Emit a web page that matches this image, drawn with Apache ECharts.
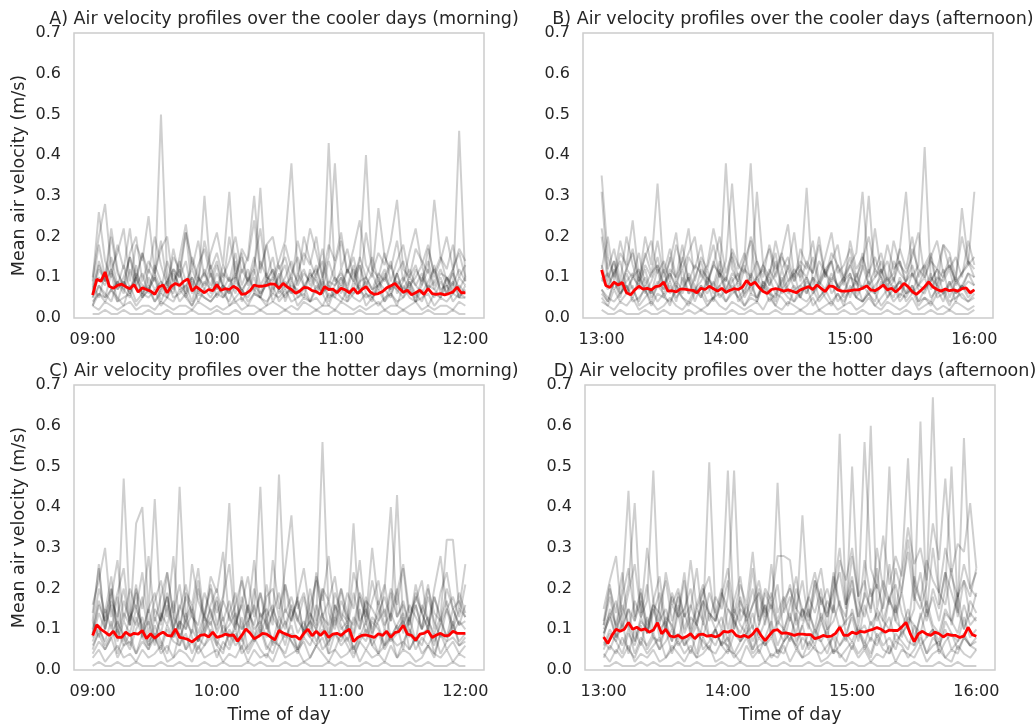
<!DOCTYPE html>
<html>
<head>
<meta charset="utf-8">
<script src="https://cdn.jsdelivr.net/npm/echarts@6/dist/echarts.min.js"></script>
<style>
html,body{margin:0;padding:0;background:#fff;}
#chart{width:1035px;height:725px;}
</style>
</head>
<body>
<div id="chart"></div>
<script>
// ---- time stamps (minutes after the start of each session) ----
const greyMinutes = [0,3,6,9,12,15,18,21,24,27,30,33,36,39,42,45,48,51,54,57,60,63,66,69,72,75,78,81,84,87,90,93,96,99,102,105,108,111,114,117,120,123,126,129,132,135,138,141,144,147,150,153,156,159,162,165,168,171,174,177,180];
const redMinutes = [0,2,4,6,8,10,12,14,16,18,20,22,24,26,28,30,32,34,36,38,40,42,44,46,48,50,52,54,56,58,60,62,64,66,68,70,72,74,76,78,80,82,84,86,88,90,92,94,96,98,100,102,104,106,108,110,112,114,116,118,120,122,124,126,128,130,132,134,136,138,140,142,144,146,148,150,152,154,156,158,160,162,164,166,168,170,172,174,176,178,180];
const morningTicks = ['09:00','10:00','11:00','12:00'];
const afternoonTicks = ['13:00','14:00','15:00','16:00'];
const tickMinutes = [0,60,120,180];

const titles = [
  'A) Air velocity profiles over the cooler days (morning)',
  'B) Air velocity profiles over the cooler days (afternoon)',
  'C) Air velocity profiles over the hotter days (morning)',
  'D) Air velocity profiles over the hotter days (afternoon)'
];

// ---- mean profiles (red) ----
const meanA = [.056,.095,.09,.113,.078,.073,.08,.083,.077,.072,.082,.064,.074,.07,.066,.058,.076,.081,.062,.078,.085,.08,.09,.096,.066,.077,.069,.062,.07,.067,.082,.068,.072,.07,.078,.072,.058,.06,.067,.081,.078,.078,.08,.084,.083,.073,.085,.076,.07,.061,.066,.075,.074,.067,.065,.058,.077,.07,.071,.062,.073,.069,.062,.073,.06,.07,.077,.064,.058,.06,.065,.074,.079,.085,.073,.063,.068,.057,.062,.068,.058,.072,.06,.058,.06,.057,.06,.064,.076,.062,.062];
const meanB = [.118,.08,.075,.088,.081,.087,.062,.057,.069,.078,.071,.073,.069,.077,.079,.088,.066,.067,.064,.071,.071,.069,.068,.062,.073,.07,.078,.072,.066,.073,.063,.068,.072,.07,.076,.092,.081,.088,.075,.065,.06,.07,.072,.07,.066,.069,.066,.062,.069,.073,.077,.07,.081,.073,.065,.079,.077,.069,.066,.066,.067,.069,.069,.073,.079,.069,.067,.073,.081,.069,.073,.064,.073,.085,.077,.065,.058,.067,.077,.089,.076,.07,.066,.071,.067,.069,.066,.072,.074,.062,.069];
const meanC = [.085,.111,.1,.093,.085,.095,.08,.08,.093,.085,.09,.088,.097,.077,.089,.078,.087,.093,.085,.083,.101,.08,.078,.075,.069,.077,.085,.087,.081,.093,.08,.083,.088,.085,.086,.071,.085,.101,.091,.077,.082,.09,.088,.081,.074,.097,.091,.087,.082,.083,.075,.09,.1,.084,.095,.085,.095,.08,.088,.09,.085,.094,.1,.07,.08,.085,.086,.083,.08,.089,.085,.095,.08,.092,.095,.11,.088,.085,.073,.088,.09,.096,.08,.086,.09,.084,.085,.095,.09,.09,.09];
const meanD = [.081,.065,.085,.1,.095,.1,.117,.1,.105,.098,.101,.093,.098,.116,.089,.1,.084,.081,.085,.078,.082,.089,.077,.087,.088,.083,.085,.081,.085,.095,.093,.097,.085,.081,.085,.08,.088,.102,.085,.072,.085,.097,.099,.09,.091,.089,.085,.088,.088,.087,.087,.077,.08,.085,.082,.083,.09,.105,.085,.085,.093,.089,.095,.093,.097,.1,.104,.1,.093,.098,.097,.097,.106,.117,.09,.07,.089,.095,.088,.085,.093,.089,.081,.088,.085,.085,.08,.083,.105,.087,.083];

// ---- individual day profiles (grey) ----
const daysA = [
[.01,.01,.02,.01,.01,.02,.01,.01,.01,.02, .01,.01,.02,.01,.01,.01,.02,.01,.01,.01, .02,.01,.01,.02,.01,.01,.01,.02,.01,.01, .01,.02,.01,.01,.01,.01,.02,.01,.01,.02, .01,.01,.01,.02,.01,.01,.01,.02,.01,.01, .02,.01,.01,.01,.02,.01,.01,.01,.02,.01, .01],
[.03,.02,.04,.03,.02,.03,.04,.02,.03,.03, .02,.04,.03,.02,.03,.03,.02,.04,.03,.02, .03,.02,.03,.04,.02,.03,.03,.02,.03,.04, .03,.02,.03,.02,.04,.03,.02,.03,.03,.02, .04,.03,.02,.03,.02,.03,.04,.02,.03,.03, .02,.03,.04,.02,.03,.02,.03,.03,.02,.04, .03],
[.04,.06,.05,.07,.04,.05,.06,.03,.05,.07, .04,.06,.05,.04,.07,.05,.03,.06,.05,.04, .06,.05,.07,.04,.05,.03,.06,.05,.04,.06, .05,.07,.04,.05,.06,.04,.05,.03,.06,.05, .04,.07,.05,.04,.06,.05,.03,.05,.06,.04, .05,.07,.04,.05,.06,.03,.05,.04,.06,.05, .05],
[.06,.1,.08,.12,.07,.09,.06,.11,.08,.07, .1,.06,.09,.12,.07,.08,.1,.06,.09,.07, .11,.08,.06,.1,.07,.09,.12,.06,.08,.1, .07,.09,.06,.11,.08,.07,.1,.06,.09,.08, .12,.07,.06,.09,.1,.07,.08,.11,.06,.09, .07,.1,.08,.06,.09,.12,.07,.08,.06,.1, .08],
[.05,.12,.09,.15,.08,.13,.07,.1,.16,.08, .11,.07,.14,.09,.12,.06,.15,.1,.08,.13, .07,.11,.09,.16,.08,.12,.06,.14,.1,.09, .13,.07,.11,.15,.08,.1,.12,.07,.14,.09, .11,.08,.13,.06,.1,.15,.09,.12,.07,.11, .14,.08,.1,.13,.07,.09,.12,.08,.11,.07, .1],
[.08,.18,.1,.22,.12,.07,.16,.2,.09,.14, .11,.19,.08,.15,.12,.21,.07,.13,.17,.1, .14,.08,.2,.11,.16,.09,.13,.22,.1,.15, .07,.18,.12,.09,.2,.14,.1,.17,.08,.13, .19,.11,.15,.08,.21,.12,.1,.16,.09,.14, .18,.1,.13,.08,.17,.11,.15,.09,.12,.16, .1],
[.1,.2,.28,.12,.16,.22,.09,.18,.14,.25, .11,.17,.2,.08,.15,.23,.12,.19,.1,.16, .21,.13,.31,.09,.17,.14,.24,.11,.18,.2, .12,.15,.09,.19,.13,.22,.16,.1,.18,.14, .21,.11,.17,.24,.13,.1,.27,.15,.12,.19, .09,.16,.22,.13,.18,.1,.14,.2,.12,.17, .14],
[.07,.13,.09,.2,.11,.08,.15,.1,.06,.12, .09,.5,.1,.07,.14,.09,.12,.08,.3,.11, .07,.13,.09,.1,.15,.08,.11,.32,.09,.12, .07,.1,.14,.08,.11,.09,.13,.07,.43,.1, .08,.12,.09,.15,.1,.07,.11,.09,.13,.08, .1,.07,.12,.09,.14,.08,.11,.1,.07,.46, .09],
[.09,.26,.14,.1,.18,.12,.22,.09,.16,.11, .2,.13,.08,.17,.1,.21,.14,.09,.19,.12, .16,.1,.14,.2,.11,.15,.3,.12,.18,.1, .14,.19,.38,.11,.16,.13,.2,.1,.15,.38, .12,.17,.1,.14,.4,.11,.16,.13,.19,.29, .12,.1,.17,.14,.11,.29,.15,.12,.18,.1, .13],
[.03,.08,.05,.11,.04,.09,.06,.13,.05,.07, .1,.04,.08,.06,.12,.05,.09,.04,.07,.11, .05,.08,.06,.14,.04,.07,.1,.05,.09,.06, .11,.04,.08,.07,.05,.12,.06,.09,.04,.08, .1,.05,.07,.13,.06,.04,.09,.07,.05,.11, .06,.08,.04,.1,.07,.05,.09,.06,.12,.05, .07],
[.05,.08,.06,.04,.09,.07,.05,.1,.06,.08, .04,.07,.09,.05,.06,.08,.04,.1,.07,.05, .08,.06,.04,.09,.07,.05,.08,.06,.1,.04, .07,.05,.09,.06,.08,.04,.07,.1,.05,.06, .08,.04,.09,.07,.05,.06,.1,.04,.08,.07, .05,.09,.06,.04,.08,.07,.05,.1,.06,.08, .06],
[.08,.05,.11,.07,.09,.06,.12,.08,.05,.1, .07,.09,.05,.11,.08,.06,.1,.07,.12,.06, .09,.05,.08,.11,.06,.1,.07,.05,.09,.12, .06,.08,.1,.05,.07,.11,.09,.06,.08,.05, .1,.07,.12,.06,.09,.05,.08,.1,.07,.11, .06,.09,.05,.08,.12,.07,.1,.06,.09,.05, .08],
[.03,.06,.04,.07,.05,.03,.08,.04,.06,.05, .07,.03,.05,.08,.04,.06,.03,.07,.05,.04, .06,.08,.03,.05,.07,.04,.06,.05,.03,.08, .04,.06,.07,.03,.05,.04,.08,.06,.03,.07, .05,.04,.06,.08,.03,.05,.07,.04,.06,.03, .08,.05,.04,.07,.03,.06,.05,.08,.04,.06, .05],
[.06,.14,.09,.12,.07,.1,.15,.08,.11,.06, .13,.09,.07,.12,.1,.14,.06,.09,.11,.08, .13,.07,.1,.06,.12,.09,.15,.08,.11,.07, .1,.13,.06,.09,.12,.08,.11,.14,.07,.1, .06,.12,.09,.13,.08,.11,.07,.1,.14,.06, .09,.12,.08,.11,.07,.13,.06,.1,.08,.12, .09]
];
const daysB = [
[.02,.01,.01,.02,.01,.01,.01,.02,.01,.01, .02,.01,.01,.01,.02,.01,.02,.01,.01,.01, .01,.02,.01,.01,.02,.01,.01,.01,.02,.01, .01,.01,.02,.01,.01,.02,.01,.01,.01,.02, .01,.01,.02,.01,.01,.01,.02,.01,.01,.02, .01,.01,.01,.02,.01,.01,.02,.01,.01,.01, .02],
[.04,.03,.02,.04,.03,.05,.02,.03,.04,.02, .03,.05,.03,.02,.04,.03,.02,.03,.05,.03, .02,.04,.03,.02,.03,.04,.02,.05,.03,.02, .04,.03,.02,.03,.05,.02,.03,.04,.02,.03, .04,.02,.03,.05,.03,.02,.04,.03,.02,.03, .05,.02,.03,.04,.02,.03,.02,.04,.03,.02, .03],
[.07,.05,.04,.06,.08,.04,.05,.07,.03,.06, .05,.04,.07,.05,.03,.06,.08,.04,.05,.06, .04,.07,.05,.03,.06,.05,.08,.04,.06,.05, .03,.07,.05,.04,.06,.08,.05,.03,.06,.04, .07,.05,.04,.06,.03,.05,.07,.04,.06,.05, .08,.04,.05,.03,.06,.07,.04,.05,.06,.04, .05],
[.09,.11,.07,.09,.06,.1,.08,.12,.06,.09, .07,.11,.08,.06,.1,.07,.09,.12,.06,.08, .1,.07,.09,.06,.11,.08,.07,.1,.06,.09, .12,.07,.08,.1,.06,.09,.07,.11,.08,.06, .1,.09,.07,.12,.06,.08,.1,.07,.09,.06, .11,.08,.07,.09,.12,.06,.08,.1,.07,.09, .08],
[.2,.09,.14,.07,.12,.1,.16,.08,.11,.13, .07,.15,.09,.12,.06,.1,.14,.08,.13,.11, .09,.15,.07,.12,.1,.14,.08,.11,.16,.07, .13,.09,.12,.1,.15,.08,.11,.14,.07,.1, .13,.09,.16,.08,.12,.1,.07,.14,.11,.09, .13,.08,.12,.15,.07,.1,.13,.09,.11,.14, .1],
[.22,.12,.17,.09,.2,.13,.08,.16,.11,.19, .1,.14,.21,.08,.15,.12,.18,.09,.13,.2, .11,.16,.1,.14,.19,.08,.13,.17,.1,.15, .12,.21,.09,.14,.11,.18,.1,.16,.13,.08, .19,.12,.15,.1,.22,.11,.14,.09,.17,.12, .2,.1,.13,.16,.08,.18,.12,.15,.1,.19, .13],
[.35,.15,.1,.19,.12,.16,.09,.2,.13,.33, .11,.17,.1,.14,.22,.09,.15,.12,.18,.1, .14,.33,.12,.16,.09,.31,.13,.1,.19,.12, .15,.09,.17,.13,.11,.2,.1,.14,.18,.09, .13,.16,.31,.11,.15,.1,.18,.12,.14,.09, .17,.12,.1,.15,.19,.11,.13,.09,.27,.14, .12],
[.31,.1,.14,.08,.12,.17,.09,.13,.1,.15, .08,.12,.1,.18,.09,.13,.11,.08,.14,.1, .38,.12,.09,.15,.38,.1,.13,.08,.11,.16, .09,.12,.1,.32,.08,.14,.11,.09,.13,.1, .15,.08,.12,.3,.1,.14,.09,.11,.17,.31, .1,.13,.42,.09,.12,.1,.15,.08,.11,.13, .31],
[.12,.2,.09,.16,.13,.24,.1,.15,.19,.11, .14,.09,.18,.12,.16,.2,.1,.13,.22,.15, .09,.17,.13,.11,.2,.14,.1,.18,.12,.16, .23,.1,.14,.12,.19,.09,.15,.21,.11,.13, .17,.1,.14,.2,.12,.16,.09,.19,.13,.11, .15,.21,.1,.14,.12,.18,.16,.1,.2,.13, .15],
[.06,.04,.09,.05,.11,.07,.04,.08,.06,.12, .05,.08,.04,.1,.06,.07,.05,.09,.04,.11, .06,.08,.05,.07,.1,.04,.09,.06,.05,.12, .07,.04,.08,.06,.1,.05,.07,.09,.04,.06, .11,.05,.08,.06,.04,.09,.07,.05,.1,.06, .08,.04,.07,.11,.05,.06,.09,.04,.08,.06, .07],
[.07,.04,.09,.06,.08,.05,.1,.07,.04,.08, .06,.09,.05,.07,.1,.04,.08,.06,.09,.05, .07,.1,.04,.06,.08,.05,.09,.07,.04,.1, .06,.08,.05,.09,.07,.04,.06,.1,.08,.05, .07,.09,.04,.06,.08,.1,.05,.07,.09,.04, .06,.08,.1,.05,.07,.04,.09,.06,.08,.05, .07],
[.1,.07,.12,.06,.09,.11,.07,.1,.05,.08, .12,.06,.09,.07,.11,.08,.05,.1,.07,.12, .06,.09,.11,.05,.08,.1,.07,.12,.09,.06, .08,.11,.05,.1,.07,.09,.12,.06,.08,.1, .05,.11,.07,.09,.06,.12,.08,.1,.05,.09, .11,.07,.06,.1,.08,.12,.05,.09,.07,.11, .08],
[.05,.03,.07,.04,.06,.08,.03,.05,.07,.04, .06,.03,.08,.05,.04,.07,.06,.03,.05,.08, .04,.06,.07,.03,.05,.04,.08,.06,.03,.07, .05,.04,.06,.08,.03,.05,.07,.04,.06,.03, .08,.05,.04,.07,.06,.03,.05,.08,.04,.06, .07,.03,.05,.04,.08,.06,.03,.07,.05,.04, .06],
[.13,.08,.11,.14,.07,.1,.12,.06,.09,.13, .08,.11,.07,.15,.09,.06,.12,.1,.08,.14, .07,.11,.09,.13,.06,.1,.12,.08,.14,.07, .09,.11,.13,.06,.1,.08,.12,.14,.07,.09, .11,.06,.13,.08,.1,.12,.07,.09,.14,.08, .06,.11,.13,.07,.1,.09,.12,.06,.08,.11, .1]
];
const daysC = [
[.01,.02,.01,.01,.02,.01,.01,.02,.01,.01, .01,.02,.01,.01,.02,.01,.01,.01,.02,.01, .01,.02,.01,.01,.01,.02,.01,.02,.01,.01, .01,.02,.01,.01,.02,.01,.01,.01,.02,.01, .02,.01,.01,.01,.02,.01,.01,.02,.01,.01, .01,.02,.01,.01,.02,.01,.01,.01,.02,.01, .01],
[.03,.05,.02,.04,.06,.03,.04,.02,.05,.03, .04,.06,.02,.03,.05,.04,.02,.06,.03,.04, .05,.02,.04,.03,.06,.02,.05,.03,.04,.02, .06,.03,.04,.05,.02,.03,.06,.04,.02,.05, .03,.04,.06,.02,.05,.03,.04,.02,.06,.03, .05,.04,.02,.03,.06,.04,.03,.05,.02,.04, .03],
[.06,.09,.05,.08,.1,.06,.07,.04,.09,.06, .08,.05,.1,.07,.06,.09,.04,.08,.06,.1, .07,.05,.09,.06,.08,.04,.07,.1,.05,.08, .06,.09,.07,.04,.08,.06,.1,.05,.07,.09, .06,.08,.04,.07,.1,.06,.09,.05,.08,.06, .07,.1,.05,.08,.06,.09,.04,.07,.08,.06, .07],
[.08,.14,.1,.16,.07,.12,.09,.15,.11,.06, .13,.09,.16,.08,.12,.1,.14,.07,.11,.15, .09,.13,.06,.12,.1,.16,.08,.14,.11,.07, .13,.1,.15,.09,.12,.08,.16,.11,.07,.14, .1,.12,.08,.15,.09,.13,.11,.06,.14,.1, .12,.08,.16,.1,.13,.07,.11,.15,.09,.12, .1],
[.1,.2,.14,.23,.09,.17,.12,.21,.08,.15, .19,.11,.24,.13,.1,.18,.14,.22,.09,.16, .2,.12,.17,.1,.23,.14,.11,.19,.13,.16, .09,.21,.15,.12,.18,.1,.24,.13,.17,.11, .2,.14,.09,.18,.12,.22,.15,.1,.19,.13, .17,.11,.21,.14,.1,.18,.12,.2,.15,.11, .16],
[.14,.25,.1,.18,.27,.12,.2,.15,.24,.11, .17,.22,.13,.28,.1,.19,.16,.25,.12,.21, .14,.18,.26,.11,.16,.23,.13,.19,.1,.27, .15,.21,.12,.18,.25,.14,.1,.2,.17,.23, .12,.19,.15,.27,.11,.17,.22,.13,.2,.16, .25,.12,.18,.14,.21,.1,.19,.24,.15,.17, .13],
[.09,.16,.12,.2,.1,.47,.14,.11,.18,.09, .15,.12,.19,.1,.45,.13,.16,.09,.14,.2, .11,.17,.13,.1,.18,.12,.15,.45,.1,.14, .19,.11,.16,.13,.09,.2,.12,.56,.14,.1, .17,.13,.11,.19,.15,.1,.14,.18,.12,.43, .11,.16,.13,.1,.2,.14,.12,.17,.1,.15, .13],
[.12,.26,.1,.17,.13,.2,.11,.36,.4,.14, .42,.12,.18,.1,.15,.21,.13,.11,.19,.14, .1,.17,.41,.12,.16,.1,.2,.13,.15,.11, .48,.14,.18,.12,.1,.16,.22,.13,.11,.19, .14,.12,.36,.1,.17,.15,.12,.2,.4,.13, .16,.11,.19,.14,.1,.18,.13,.32,.32,.15, .26],
[.16,.22,.3,.13,.19,.25,.11,.2,.15,.28, .12,.18,.24,.14,.21,.1,.26,.17,.13,.23, .19,.29,.12,.16,.22,.14,.27,.11,.18,.2, .13,.25,.38,.15,.19,.12,.23,.17,.28,.14, .2,.11,.24,.18,.13,.3,.16,.21,.12,.19, .26,.14,.17,.22,.11,.2,.28,.15,.18,.13, .21],
[.05,.1,.07,.12,.04,.09,.06,.13,.08,.05, .11,.07,.04,.1,.06,.14,.08,.05,.09,.12, .06,.04,.1,.07,.13,.05,.08,.11,.06,.04, .09,.12,.07,.05,.1,.08,.06,.13,.04,.09, .07,.11,.05,.08,.12,.06,.04,.1,.07,.09, .13,.05,.08,.06,.11,.04,.09,.07,.12,.06, .08],
[.07,.11,.06,.09,.12,.08,.05,.1,.13,.07, .09,.06,.11,.08,.12,.05,.1,.07,.13,.09, .06,.11,.08,.1,.05,.12,.07,.09,.13,.06, .1,.08,.11,.05,.09,.12,.07,.1,.06,.13, .08,.11,.05,.09,.07,.12,.1,.06,.08,.11, .05,.13,.07,.09,.1,.06,.12,.08,.11,.07, .09],
[.12,.08,.15,.1,.18,.07,.13,.16,.09,.12, .06,.14,.11,.17,.08,.12,.15,.07,.1,.13, .18,.09,.11,.14,.07,.16,.1,.12,.08,.15, .11,.06,.13,.17,.09,.12,.1,.14,.08,.16, .11,.07,.13,.1,.18,.09,.12,.15,.08,.11, .14,.1,.07,.16,.12,.09,.13,.08,.15,.11, .12],
[.04,.07,.05,.08,.03,.06,.09,.04,.07,.05, .08,.04,.06,.03,.09,.05,.07,.04,.06,.08, .03,.07,.05,.09,.04,.06,.08,.05,.03,.07, .06,.04,.09,.05,.07,.03,.06,.08,.04,.05, .09,.06,.03,.07,.05,.08,.04,.06,.09,.03, .07,.05,.08,.04,.06,.03,.09,.05,.07,.04, .06],
[.09,.17,.12,.2,.08,.14,.11,.19,.1,.15, .08,.13,.18,.1,.16,.12,.09,.2,.13,.11, .17,.08,.14,.19,.1,.12,.16,.09,.21,.13, .1,.15,.12,.18,.08,.14,.11,.2,.09,.16, .13,.1,.19,.12,.15,.08,.17,.11,.14,.2, .09,.13,.16,.1,.18,.12,.08,.15,.11,.19, .14]
];
const daysD = [
[.01,.01,.02,.01,.01,.01,.02,.01,.02,.01, .01,.01,.02,.01,.01,.02,.01,.01,.01,.02, .01,.01,.02,.01,.01,.01,.02,.01,.01,.02, .01,.01,.01,.02,.01,.01,.02,.01,.01,.01, .02,.01,.01,.02,.01,.01,.01,.02,.01,.01, .02,.01,.01,.01,.02,.01,.01,.02,.01,.01, .01],
[.04,.02,.05,.03,.06,.02,.04,.03,.05,.02, .03,.06,.04,.02,.05,.03,.04,.06,.02,.03, .05,.04,.02,.06,.03,.05,.02,.04,.03,.06, .02,.05,.03,.04,.06,.02,.03,.05,.04,.02, .06,.03,.05,.02,.04,.03,.06,.02,.05,.04, .03,.06,.02,.04,.05,.03,.02,.06,.04,.03, .05],
[.07,.05,.09,.06,.1,.04,.08,.06,.09,.05, .07,.1,.06,.08,.04,.09,.07,.05,.1,.06, .08,.04,.07,.09,.05,.1,.06,.08,.04,.07, .09,.05,.08,.06,.1,.07,.04,.09,.06,.08, .05,.1,.07,.04,.09,.06,.08,.05,.1,.07, .06,.09,.04,.08,.06,.1,.05,.07,.09,.06, .08],
[.1,.14,.08,.16,.11,.07,.13,.09,.15,.1, .12,.07,.16,.09,.13,.11,.08,.14,.1,.06, .15,.12,.09,.13,.07,.11,.16,.08,.12,.1, .14,.07,.11,.15,.09,.13,.08,.16,.1,.12, .14,.09,.11,.07,.15,.12,.1,.16,.08,.13, .11,.09,.15,.1,.07,.14,.12,.09,.16,.11, .13],
[.12,.21,.1,.18,.25,.13,.2,.09,.17,.23, .11,.19,.14,.24,.1,.16,.21,.12,.18,.15, .22,.1,.17,.13,.25,.11,.19,.15,.21,.09, .16,.23,.12,.18,.14,.2,.1,.24,.16,.13, .22,.11,.19,.15,.25,.12,.18,.21,.14,.1, .23,.17,.12,.2,.15,.24,.11,.18,.22,.13, .19],
[.15,.22,.28,.12,.19,.26,.14,.3,.17,.11, .24,.16,.2,.13,.27,.15,.19,.23,.12,.18, .25,.14,.21,.16,.29,.13,.2,.17,.28,.28, .27,.15,.22,.12,.19,.25,.14,.2,.3,.16, .23,.13,.27,.18,.21,.15,.26,.12,.2,.29, .17,.24,.14,.3,.19,.16,.25,.13,.22,.18, .25],
[.08,.15,.11,.2,.44,.12,.17,.09,.14,.19, .1,.16,.13,.22,.09,.15,.12,.51,.14,.1, .18,.49,.12,.16,.1,.2,.13,.17,.11,.15, .21,.12,.38,.14,.1,.18,.13,.23,.15,.11, .5,.17,.13,.2,.12,.16,.5,.14,.19,.11, .15,.61,.13,.18,.12,.2,.5,.15,.1,.17, .14],
[.11,.18,.1,.14,.21,.41,.13,.17,.49,.12, .15,.1,.19,.13,.16,.11,.2,.14,.12,.17, .49,.1,.15,.13,.2,.12,.16,.1,.46,.14, .18,.11,.15,.13,.22,.12,.17,.14,.58,.16, .2,.13,.18,.6,.15,.22,.17,.14,.25,.52, .18,.15,.21,.67,.16,.24,.19,.14,.57,.2, .18],
[.09,.13,.17,.1,.15,.12,.19,.11,.16,.14, .1,.18,.13,.15,.2,.11,.17,.14,.12,.19, .15,.13,.18,.11,.16,.22,.14,.19,.12,.17, .2,.15,.13,.18,.24,.16,.2,.14,.27,.22, .3,.18,.56,.25,.2,.33,.21,.28,.23,.35, .26,.3,.22,.36,.27,.47,.24,.31,.29,.41, .25],
[.05,.09,.07,.12,.04,.1,.06,.13,.08,.05, .11,.07,.14,.06,.09,.04,.12,.08,.06,.1, .05,.13,.07,.09,.11,.04,.08,.12,.06,.1, .07,.14,.05,.09,.06,.12,.08,.04,.11,.07, .15,.09,.06,.12,.08,.1,.13,.07,.09,.11, .06,.14,.08,.1,.05,.12,.09,.07,.13,.08, .1],
[.06,.1,.07,.04,.09,.06,.11,.05,.08,.07, .1,.04,.09,.06,.08,.11,.05,.07,.1,.06, .04,.09,.07,.11,.05,.08,.06,.1,.04,.07, .09,.06,.11,.05,.08,.07,.1,.04,.06,.09, .07,.11,.05,.08,.06,.1,.04,.09,.07,.05, .11,.06,.08,.1,.04,.07,.09,.05,.08,.06, .07],
[.09,.13,.08,.11,.15,.07,.12,.1,.16,.08, .13,.11,.07,.14,.09,.12,.17,.08,.1,.13, .07,.15,.11,.09,.14,.08,.12,.16,.1,.07, .13,.09,.15,.11,.08,.14,.1,.12,.17,.09, .13,.07,.16,.11,.14,.09,.18,.12,.1,.15, .08,.13,.17,.11,.09,.15,.12,.19,.1,.14, .12],
[.03,.06,.04,.08,.05,.03,.07,.04,.06,.08, .03,.05,.07,.04,.06,.03,.08,.05,.04,.07, .06,.03,.05,.08,.04,.06,.07,.03,.05,.04, .08,.06,.03,.07,.05,.04,.06,.08,.03,.05, .07,.04,.06,.03,.08,.05,.04,.07,.06,.03, .05,.08,.04,.06,.07,.03,.05,.04,.08,.06, .05],
[.11,.2,.14,.24,.1,.17,.13,.21,.09,.16, .22,.12,.18,.1,.15,.25,.11,.19,.14,.2, .1,.17,.23,.12,.16,.19,.11,.26,.14,.18, .12,.2,.15,.1,.22,.17,.13,.19,.24,.15, .28,.18,.22,.14,.3,.2,.16,.25,.19,.32, .21,.17,.27,.22,.19,.3,.23,.18,.26,.2, .24]
];

const panels = [
  {days: daysA, mean: meanA, ticks: morningTicks, title: titles[0]},
  {days: daysB, mean: meanB, ticks: afternoonTicks, title: titles[1]},
  {days: daysC, mean: meanC, ticks: morningTicks, title: titles[2]},
  {days: daysD, mean: meanD, ticks: afternoonTicks, title: titles[3]}
];

// ---- layout ----
const FONT = 'DejaVu Sans';
const TXT = '#262626';
const grids = [
  {left: 74, top: 33, width: 410, height: 285},
  {left: 583, top: 33, width: 410, height: 285},
  {left: 74, top: 385, width: 410, height: 285},
  {left: 585, top: 385, width: 410, height: 285}
];

const option = {
  backgroundColor: '#ffffff',
  animation: false,
  title: panels.map((p, i) => ({
    text: p.title,
    left: grids[i].left + grids[i].width / 2,
    top: grids[i].top - 28,
    textAlign: 'center',
    textStyle: {fontFamily: FONT, fontSize: 17.5, fontWeight: 'normal', color: TXT}
  })),
  grid: grids.map(g => Object.assign({show: true, borderColor: '#cccccc', borderWidth: 1.5, backgroundColor: '#ffffff'}, g)),
  xAxis: panels.map((p, i) => ({
    type: 'value', gridIndex: i, min: -9, max: 189,
    axisLine: {show: false}, axisTick: {show: false}, splitLine: {show: false},
    axisLabel: {
      customValues: tickMinutes,
      formatter: v => p.ticks[tickMinutes.indexOf(Math.round(v))] || '',
      fontFamily: FONT, fontSize: 16, color: TXT, margin: 14
    },
    name: i >= 2 ? 'Time of day' : '',
    nameLocation: 'middle', nameGap: 36,
    nameTextStyle: {fontFamily: FONT, fontSize: 17.5, color: TXT}
  })),
  yAxis: panels.map((p, i) => ({
    type: 'value', gridIndex: i, min: 0, max: 0.7, interval: 0.1,
    axisLine: {show: false}, axisTick: {show: false}, splitLine: {show: false},
    axisLabel: {formatter: v => v.toFixed(1), fontFamily: FONT, fontSize: 16, color: TXT, margin: 13},
    name: (i % 2 === 0) ? 'Mean air velocity (m/s)' : '',
    nameLocation: 'middle', nameGap: 46, nameRotate: 90,
    nameTextStyle: {fontFamily: FONT, fontSize: 17.5, color: TXT}
  })),
  series: []
};

panels.forEach((p, i) => {
  p.days.forEach(day => {
    option.series.push({
      type: 'line', xAxisIndex: i, yAxisIndex: i,
      data: day.map((v, k) => [greyMinutes[k], v]),
      showSymbol: false, silent: true, z: 2,
      lineStyle: {color: 'rgba(0,0,0,0.19)', width: 2},
      itemStyle: {color: 'rgba(0,0,0,0.19)'}
    });
  });
  option.series.push({
    type: 'line', xAxisIndex: i, yAxisIndex: i,
    data: p.mean.map((v, k) => [redMinutes[k], v]),
    showSymbol: false, silent: true, z: 5,
    lineStyle: {color: '#ff0000', width: 2.8},
    itemStyle: {color: '#ff0000'}
  });
});

const chart = echarts.init(document.getElementById('chart'), null, {renderer: 'canvas'});
chart.setOption(option);
</script>
</body>
</html>
